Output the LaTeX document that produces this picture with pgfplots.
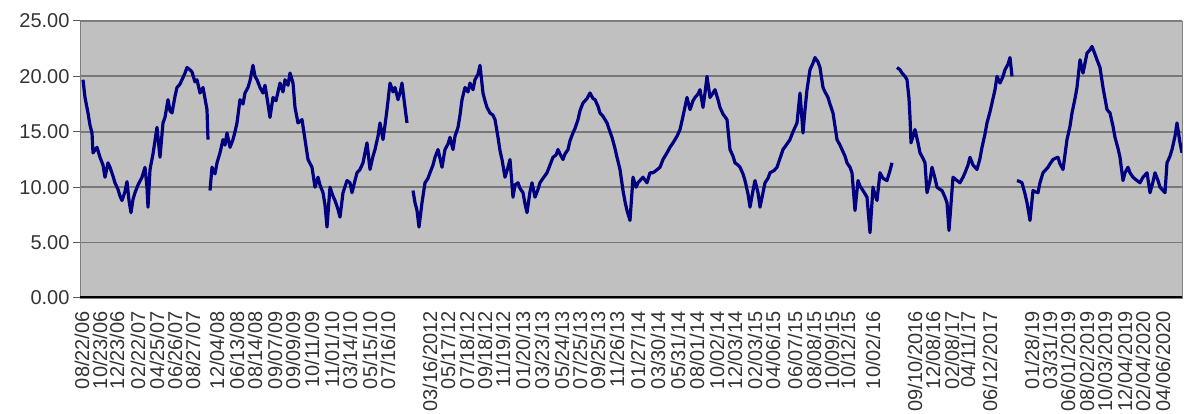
\documentclass[border=0pt]{standalone}
\usepackage{pgfplots}
\pgfplotsset{compat=1.18}
\usepackage{fontspec}
\setmainfont{Liberation Sans}
\definecolor{bgsilver}{RGB}{192,192,192}
\definecolor{gridgray}{RGB}{120,120,120}
\definecolor{navyline}{RGB}{0,0,128}
\begin{document}
\begin{tikzpicture}[x=1pt,y=1pt]
\useasboundingbox (0,0) rectangle (1184,414);
\begin{axis}[
  at={(80pt,116pt)}, anchor=south west,
  scale only axis, width=1102pt, height=277pt,
  xmin=80, xmax=1182, ymin=0, ymax=25,
  axis background/.style={fill=bgsilver},
  axis line style={draw=gray, line width=0.8pt},
  ytick={0,5,10,15,20,25},
  ymajorgrids, grid style={draw=gridgray, line width=1.8pt},
  tick pos=left, tick align=outside,
  major tick length=7pt,
  ytick style={draw=gray!70!black, line width=1pt},
  x tick style={draw=none},
  yticklabel style={font=\fontsize{20}{22}\selectfont, text=black!80, /pgf/number format/.cd, fixed, fixed zerofill, precision=2, assume math mode=true},
  xtick={82,100,117,138,157,175,193,217,237,255,275,293,312,332,350,370,388,430,448,467,485,503,523,542,562,580,598,617,638,658,678,697,717,735,755,773,795,814,832,848,873,915,933,952,968,990,1032,1050,1068,1087,1105,1125,1143,1163},
  xticklabels={08/22/06,10/23/06,12/23/06,02/22/07,04/25/07,06/26/07,08/27/07,12/04/08,06/13/08,08/14/08,09/07/09,09/09/09,10/11/09,11/01/10,03/14/10,05/15/10,07/16/10,03/16/2012,05/17/12,07/18/12,09/18/12,11/19/12,01/20/13,03/23/13,05/24/13,07/25/13,09/25/13,11/26/13,01/27/14,03/30/14,05/31/14,08/01/14,10/02/14,12/03/14,02/03/15,04/06/15,06/07/15,08/08/15,10/09/15,10/12/15,10/02/16,09/10/2016,12/08/16,02/08/17,04/11/17,06/12/2017,01/28/19,03/31/19,06/01/2019,08/02/2019,10/03/2019,12/04/2019,02/04/2020,04/06/2020},
  xticklabel style={rotate=90, anchor=east, inner sep=0pt, font=\fontsize{20}{22}\selectfont, text=black!80},
  xticklabel shift=6pt,
  clip=true,
]
\addplot[navyline, line width=3.2pt, line join=round] coordinates {
(83,19.7)(84,18.9)(85,18.1)(88,16.7)(90,15.6)(92,14.9)(93,13.1)(97,13.6)(100,12.7)(103,12.0)(105,10.9)(108,12.2)(110,11.8)(113,11.0)(115,10.4)(118,9.8)(120,9.2)(122,8.8)(125,9.6)(127,10.5)(129,8.8)(131,7.7)(133,8.9)(135,9.5)(138,10.2)(142,10.9)(145,11.8)(147,10.0)(148,8.2)(150,11.6)(153,13.0)(155,14.2)(157,15.4)(160,12.7)(163,15.8)(165,16.3)(168,17.9)(170,16.9)(172,16.7)(175,18.2)(177,19.0)(180,19.3)(182,19.7)(185,20.3)(187,20.8)(190,20.6)(192,20.4)(195,19.5)(197,19.7)(200,18.5)(203,19.0)(205,18.0)(207,17.0)(208,14.3)
};
\addplot[navyline, line width=3.2pt, line join=round] coordinates {
(210,9.7)(212,11.8)(215,11.2)(217,12.2)(220,13.1)(223,14.3)(225,13.8)(227,14.9)(230,13.6)(233,14.3)(235,15.0)(237,15.8)(240,17.9)(243,17.5)(245,18.5)(248,19.0)(250,19.6)(253,21.0)(255,20.0)(257,19.7)(260,19.0)(263,18.5)(265,19.2)(268,17.5)(270,16.3)(273,18.1)(276,17.8)(280,19.4)(283,18.6)(285,19.7)(288,19.2)(290,20.3)(293,19.4)(295,17.2)(298,15.8)(302,16.1)(305,14.3)(308,12.5)(312,11.8)(315,10.0)(318,10.9)(320,10.2)(323,9.5)(325,8.4)(327,6.4)(330,10.0)(333,9.2)(335,8.8)(338,8.0)(340,7.3)(343,9.5)(347,10.6)(350,10.4)(352,9.5)(355,10.6)(357,11.3)(360,11.6)(363,12.2)(367,14.0)(370,11.6)(373,12.8)(375,13.4)(378,14.6)(380,15.8)(383,14.3)(385,15.6)(387,17.0)(390,19.4)(393,18.6)(395,19.0)(398,17.9)(400,18.5)(402,19.4)(405,17.2)(407,15.8)
};
\addplot[navyline, line width=3.2pt, line join=round] coordinates {
(413,9.7)(415,8.6)(417,7.9)(419,6.4)(422,8.6)(425,10.4)(428,10.8)(430,11.3)(433,12.0)(435,12.7)(438,13.4)(442,11.8)(445,13.4)(448,13.9)(450,14.5)(453,13.4)(455,14.6)(458,15.4)(460,16.5)(462,17.9)(465,19.0)(468,18.6)(470,19.4)(473,18.8)(475,19.7)(478,20.2)(480,21.0)(483,18.5)(485,17.8)(487,17.2)(490,16.7)(493,16.5)(495,16.1)(498,14.5)(500,13.3)(502,12.5)(505,10.9)(508,11.8)(510,12.5)(513,9.1)(515,10.2)(518,10.4)(520,9.9)(523,9.5)(525,8.5)(527,7.7)(530,9.6)(532,10.4)(535,9.1)(538,9.8)(540,10.4)(543,10.8)(547,11.3)(550,12.0)(553,12.7)(556,12.9)(558,13.4)(560,13.0)(563,12.5)(565,13.0)(568,13.4)(570,14.2)(573,14.9)(575,15.3)(578,16.1)(580,16.9)(583,17.6)(587,18.0)(590,18.5)(593,18.0)(595,17.9)(598,17.3)(600,16.7)(603,16.4)(607,15.8)(610,15.0)(612,14.5)(615,13.5)(617,12.7)(620,11.6)(623,9.7)(625,8.7)(627,7.9)(630,7.0)(633,10.9)(636,10.0)(638,10.4)(640,10.6)(643,10.9)(647,10.4)(650,11.3)(653,11.3)(656,11.5)(660,11.8)(663,12.5)(667,13.1)(670,13.6)(673,14.0)(677,14.6)(680,15.2)(683,16.4)(687,18.1)(690,17.0)(693,17.8)(695,18.1)(698,18.4)(700,18.8)(703,17.2)(705,18.5)(707,20.0)(710,18.1)(713,18.5)(715,18.8)(718,17.9)(720,17.2)(723,16.6)(727,16.1)(730,13.4)(733,12.8)(735,12.2)(738,12.0)(740,11.8)(743,11.2)(745,10.6)(748,9.4)(750,8.2)(753,9.7)(755,10.6)(758,9.5)(760,8.2)(763,9.5)(765,10.4)(768,10.8)(770,11.3)(774,11.5)(777,11.8)(780,12.6)(783,13.4)(787,13.9)(790,14.3)(793,15.0)(797,15.8)(800,18.5)(803,14.9)(805,17.0)(807,18.8)(810,20.6)(813,21.2)(815,21.7)(818,21.3)(820,20.8)(823,19.0)(825,18.6)(828,18.1)(830,17.5)(833,16.7)(837,14.3)(840,13.8)(842,13.4)(845,12.8)(847,12.2)(850,11.8)(852,11.3)(855,7.9)(858,10.6)(860,10.1)(863,9.7)(865,9.4)(867,9.1)(870,5.9)(873,10.0)(875,9.3)(877,8.8)(880,11.3)(883,10.8)(887,10.6)(890,11.5)(892,12.2)
};
\addplot[navyline, line width=3.2pt, line join=round] coordinates {
(897,20.8)(900,20.6)(902,20.3)(905,20.0)(907,19.7)(909,18.0)(910,16.3)(911,14.0)(913,14.6)(915,15.2)(918,14.0)(920,13.1)(923,12.6)(925,12.2)(927,9.5)(930,10.6)(932,11.8)(935,10.8)(937,10.0)(940,9.8)(942,9.7)(945,9.1)(947,8.6)(949,6.1)(951,8.5)(953,10.9)(957,10.6)(960,10.4)(963,10.9)(965,11.3)(968,12.0)(970,12.7)(973,12.0)(977,11.6)(980,12.6)(982,13.6)(985,14.8)(987,15.8)(990,16.8)(992,17.6)(995,18.8)(997,20.0)(1000,19.4)(1003,20.0)(1005,20.6)(1008,21.1)(1010,21.7)(1012,20.0)
};
\addplot[navyline, line width=3.2pt, line join=round] coordinates {
(1017,10.6)(1020,10.5)(1022,10.4)(1025,9.4)(1027,8.6)(1030,7.0)(1033,9.7)(1035,9.6)(1038,9.5)(1040,10.4)(1043,11.3)(1045,11.5)(1048,11.8)(1050,12.1)(1053,12.5)(1055,12.6)(1058,12.7)(1060,12.1)(1063,11.6)(1067,14.3)(1070,15.5)(1072,16.7)(1075,18.0)(1077,19.0)(1080,21.5)(1083,20.3)(1085,21.2)(1087,22.1)(1090,22.4)(1092,22.7)(1095,22.0)(1097,21.5)(1100,20.8)(1103,19.0)(1105,18.0)(1107,17.0)(1110,16.7)(1113,15.5)(1115,14.5)(1118,13.5)(1120,12.7)(1123,10.6)(1125,11.3)(1128,11.8)(1130,11.3)(1133,10.9)(1137,10.6)(1140,10.4)(1143,10.9)(1147,11.3)(1150,9.5)(1153,10.5)(1155,11.3)(1158,10.6)(1160,10.0)(1163,9.7)(1165,9.5)(1167,12.2)(1170,12.8)(1172,13.4)(1175,14.6)(1177,15.8)(1180,14.0)(1182,13.1)
};
\draw[black, line width=3.5pt] (rel axis cs:0,0) -- (rel axis cs:1,0);
\end{axis}
\end{tikzpicture}
\end{document}
